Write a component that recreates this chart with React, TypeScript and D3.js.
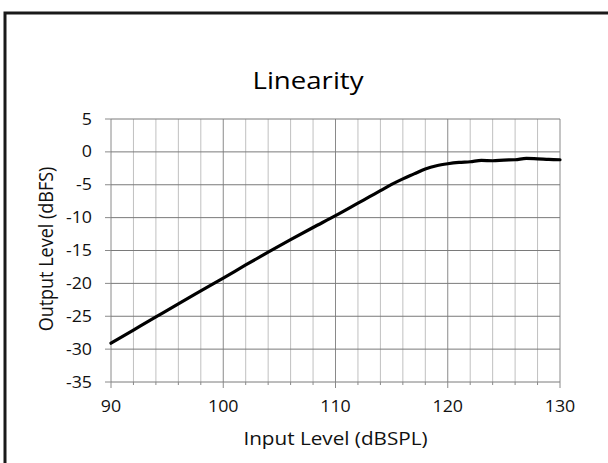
import React from 'react';
import * as d3 from 'd3';

// values
const inputLevels = [90, 92, 94, 96, 98, 100, 102, 104, 106, 108, 110, 112, 113, 114, 115, 116, 117, 118, 119, 120, 121, 122, 123, 124, 125, 126, 127, 128, 129, 130];
const outputLevels = [-29.1, -27.1, -25.1, -23.1, -21.15, -19.2, -17.2, -15.25, -13.35, -11.5, -9.7, -7.8, -6.85, -5.9, -4.95, -4.1, -3.35, -2.6, -2.1, -1.8, -1.6, -1.5, -1.3, -1.35, -1.25, -1.2, -1.0, -1.05, -1.15, -1.2];
const xTicks = [90, 100, 110, 120, 130];
const xMinorTicks = d3.range(90, 131, 2);
const yTicks = [5, 0, -5, -10, -15, -20, -25, -30, -35];

const chartTitle = 'Linearity';
const xTitle = 'Input Level (dBSPL)';
const yTitle = 'Output Level (dBFS)';

const W = 608;
const H = 463;
const margin = { top: 119, right: 48, bottom: 81, left: 111 };
const FONT = "'Open Sans', sans-serif";
const SX = 1.15; // the reference text is a little wider than it is tall

const App = () => {
  const x = d3.scaleLinear().domain([90, 130]).range([margin.left, W - margin.right]);
  const y = d3.scaleLinear().domain([-35, 5]).range([H - margin.bottom, margin.top]);

  const points: [number, number][] = inputLevels.map((v, i) => [v, outputLevels[i]]);
  const line = d3.line<[number, number]>()
    .x(d => x(d[0]))
    .y(d => y(d[1]))
    .curve(d3.curveMonotoneX);

  const x0 = x(90), x1 = x(130), y0 = y(-35), y1 = y(5);

  return (
    <svg width={W} height={H} style={{ position: 'absolute', left: 0, top: 0, background: '#fff' }}>
      {/* chart frame */}
      <rect x={5} y={13} width={W + 10} height={H + 10} fill="none" stroke="#1a1a1a" strokeWidth={3} />

      <text transform={`translate(308,89) scale(${SX},1)`} textAnchor="middle" fontFamily={FONT} fontSize={24} fill="#000">
        {chartTitle}
      </text>

      {/* minor vertical gridlines */}
      {xMinorTicks.filter(t => t % 10 !== 0).map(t => (
        <line key={'vm' + t} x1={x(t)} x2={x(t)} y1={y1} y2={y0} stroke="#c0c0c0" strokeWidth={1} />
      ))}
      {/* major vertical gridlines */}
      {xTicks.map(t => (
        <line key={'vM' + t} x1={x(t)} x2={x(t)} y1={y1} y2={y0} stroke="#8a8a8a" strokeWidth={1} />
      ))}
      {/* horizontal gridlines */}
      {yTicks.map(t => (
        <line key={'h' + t} x1={x0} x2={x1} y1={y(t)} y2={y(t)} stroke="#7a7a7a" strokeWidth={1} />
      ))}

      {/* axes ticks */}
      {yTicks.map(t => (
        <line key={'yt' + t} x1={x0 - 6} x2={x0} y1={y(t)} y2={y(t)} stroke="#8a8a8a" strokeWidth={1} />
      ))}
      {xMinorTicks.map(t => (
        <line key={'xt' + t} x1={x(t)} x2={x(t)} y1={y0} y2={y0 + (t % 10 === 0 ? 6 : 3)} stroke="#8a8a8a" strokeWidth={1} />
      ))}

      <path d={line(points) || ''} fill="none" stroke="#000" strokeWidth={3.2} strokeLinejoin="round" strokeLinecap="round" />

      {/* tick labels */}
      {yTicks.map(t => (
        <text key={'yl' + t} transform={`translate(${x0 - 19},${y(t) + 5.5}) scale(${SX},1)`} textAnchor="end"
          fontFamily={FONT} fontSize={15.5} fill="#111">
          {t}
        </text>
      ))}
      {xTicks.map(t => (
        <text key={'xl' + t} transform={`translate(${x(t)},${y0 + 29.5}) scale(${SX},1)`} textAnchor="middle"
          fontFamily={FONT} fontSize={15.5} fill="#111">
          {t}
        </text>
      ))}

      <text transform={`translate(${(x0 + x1) / 2},445) scale(${SX},1)`} textAnchor="middle" fontFamily={FONT} fontSize={18} fill="#111">
        {xTitle}
      </text>
      <text transform={`translate(53,249) scale(${SX},1) rotate(-90)`} textAnchor="middle" fontFamily={FONT} fontSize={18} fill="#111">
        {yTitle}
      </text>
    </svg>
  );
};

export default App;
